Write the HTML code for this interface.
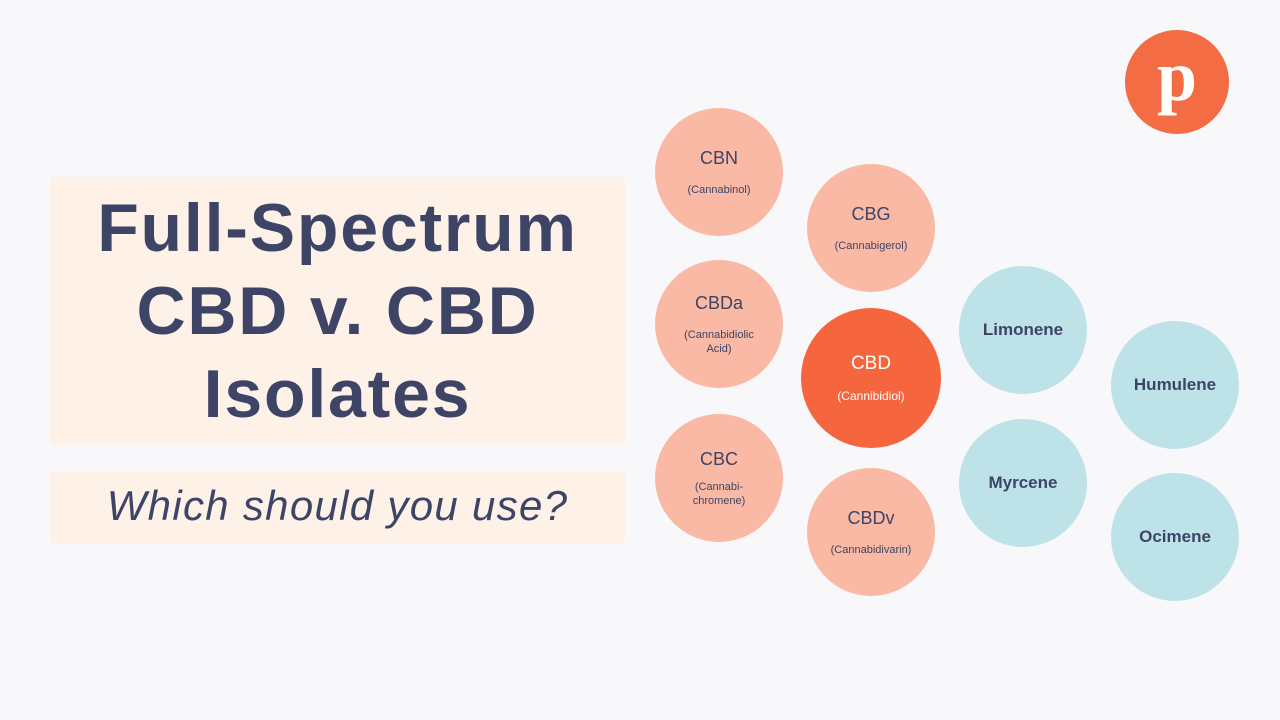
<!DOCTYPE html>
<html><head><meta charset="utf-8"><style>
body{margin:0;width:1280px;height:720px;background:#f8f8fa;position:relative;overflow:hidden;font-family:"Liberation Sans",sans-serif;color:#3d4466}
.box{position:absolute;left:50px;width:575px;background:#fdf1e8}
.t{position:absolute;left:50px;width:575px;text-align:center;font-weight:bold;font-size:68px;line-height:83px;top:187px;letter-spacing:1.8px}
.s{position:absolute;left:50px;width:575px;text-align:center;font-style:italic;font-size:42px;top:482px;letter-spacing:1.3px}
.c{position:absolute;border-radius:50%;display:flex;flex-direction:column;align-items:center;justify-content:center;text-align:center}
.p{background:#f9b9a4}
.b{background:#bde3e9}
.c .n{font-size:18px}
.c .d{font-size:11px;margin-top:14px;line-height:14px}
.b .n{font-size:17px;font-weight:bold}
</style></head><body>
<div class="box" style="top:177px;height:268px"></div>
<div class="box" style="top:472px;height:71px"></div>
<div class="t">Full-Spectrum<br>CBD v. CBD<br>Isolates</div>
<div class="s">Which should you use?</div>

<div class="c p" style="left:655px;top:108px;width:128px;height:128px"><div class="n">CBN</div><div class="d">(Cannabinol)</div></div>
<div class="c p" style="left:807px;top:164px;width:128px;height:128px"><div class="n">CBG</div><div class="d">(Cannabigerol)</div></div>
<div class="c p" style="left:655px;top:260px;width:128px;height:128px"><div class="n">CBDa</div><div class="d">(Cannabidiolic<br>Acid)</div></div>
<div class="c" style="left:801px;top:308px;width:140px;height:140px;background:#f5663e;color:#fff"><div class="n" style="font-size:19px">CBD</div><div class="d" style="font-size:12px">(Cannibidiol)</div></div>
<div class="c p" style="left:655px;top:414px;width:128px;height:128px"><div class="n">CBC</div><div class="d" style="margin-top:10px">(Cannabi-<br>chromene)</div></div>
<div class="c p" style="left:807px;top:468px;width:128px;height:128px"><div class="n">CBDv</div><div class="d">(Cannabidivarin)</div></div>
<div class="c b" style="left:959px;top:266px;width:128px;height:128px"><div class="n">Limonene</div></div>
<div class="c b" style="left:959px;top:419px;width:128px;height:128px"><div class="n">Myrcene</div></div>
<div class="c b" style="left:1111px;top:321px;width:128px;height:128px"><div class="n">Humulene</div></div>
<div class="c b" style="left:1111px;top:473px;width:128px;height:128px"><div class="n">Ocimene</div></div>

<div class="c" style="left:1125px;top:30px;width:104px;height:104px;background:#f36c43;color:#fff"><div style="font-family:'Liberation Serif',serif;font-weight:bold;font-size:72px;line-height:72px;margin-top:-12px">p</div></div>
</body></html>
